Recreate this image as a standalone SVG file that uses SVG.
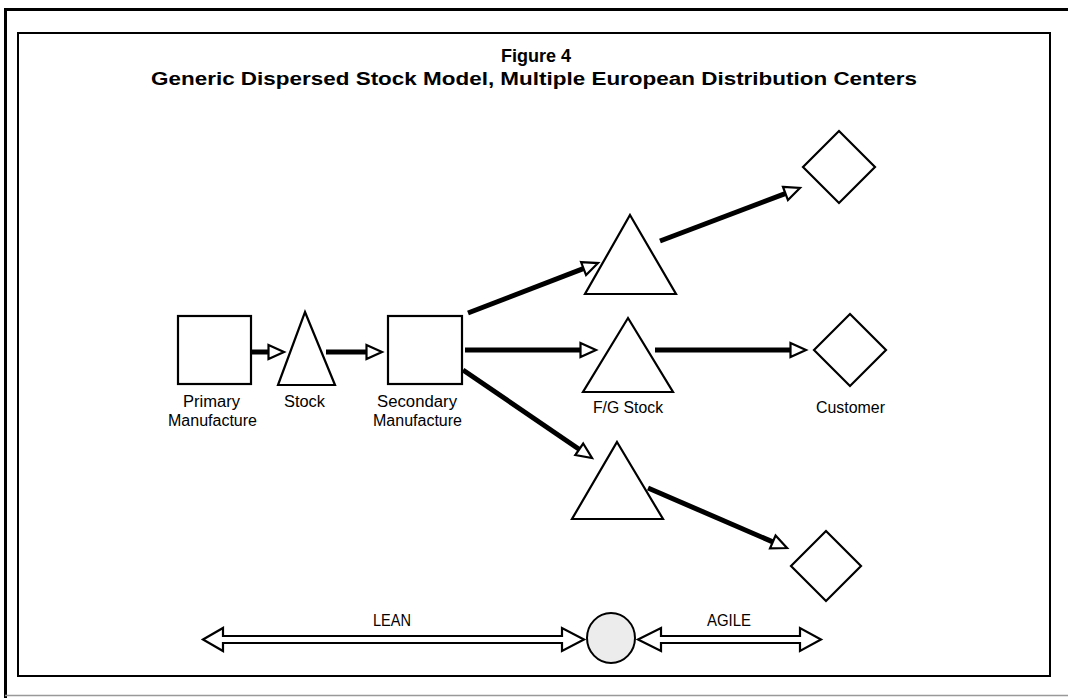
<svg xmlns="http://www.w3.org/2000/svg" width="1068" height="698" viewBox="0 0 1068 698">
<style>
.shape{fill:#fff;stroke:#000;stroke-width:2.2;stroke-linejoin:miter}
.shaft{stroke:#000;stroke-width:5;fill:none}
.lbl{font-family:"Liberation Sans",Arial,sans-serif;font-size:16px;fill:#000;text-anchor:middle}
.ttl{font-family:"Liberation Sans",Arial,sans-serif;font-size:18px;font-weight:bold;fill:#000;text-anchor:middle}
.dbl{fill:#fff;stroke:#000;stroke-width:2.2;stroke-linejoin:miter}
</style>
<defs>
<marker id="ah" markerUnits="userSpaceOnUse" markerWidth="20" markerHeight="20" refX="4" refY="9" orient="auto">
<path d="M1.5,2 L17,9 L1.5,16 Z" fill="#fff" stroke="#000" stroke-width="2.2"/>
</marker>
</defs>
<rect width="1068" height="698" fill="#fff"/>
<g id="frame">
<path d="M5.5,698 L5.5,9.5 L1068,9.5" fill="none" stroke="#000" stroke-width="3"/>
<line x1="5" y1="695.5" x2="1068" y2="695.5" stroke="#999" stroke-width="1.5"/>
<rect x="18" y="33" width="1032" height="643" fill="none" stroke="#000" stroke-width="2"/>
</g>
<g id="title">
<text class="ttl" x="536" y="62" textLength="70" lengthAdjust="spacingAndGlyphs">Figure 4</text>
<text class="ttl" x="534" y="85" textLength="766" lengthAdjust="spacingAndGlyphs">Generic Dispersed Stock Model, Multiple European Distribution Centers</text>
</g>
<g id="connectors">
<line class="shaft" x1="252" y1="352" x2="271" y2="352" marker-end="url(#ah)"/>
<line class="shaft" x1="326" y1="352" x2="369" y2="352" marker-end="url(#ah)"/>
<line class="shaft" x1="468" y1="313" x2="585.9" y2="267.7" marker-end="url(#ah)"/>
<line class="shaft" x1="465" y1="350" x2="583" y2="350" marker-end="url(#ah)"/>
<line class="shaft" x1="463" y1="370" x2="581.3" y2="450.7" marker-end="url(#ah)"/>
<line class="shaft" x1="660" y1="241" x2="787.8" y2="192.6" marker-end="url(#ah)"/>
<line class="shaft" x1="655" y1="350" x2="793" y2="350" marker-end="url(#ah)"/>
<line class="shaft" x1="648" y1="488" x2="775.1" y2="542.9" marker-end="url(#ah)"/>
</g>
<g id="primary">
<rect class="shape" x="178" y="316" width="73" height="68"/>
<text class="lbl" x="211.5" y="407" textLength="57" lengthAdjust="spacingAndGlyphs">Primary</text>
<text class="lbl" x="212.5" y="426" textLength="89" lengthAdjust="spacingAndGlyphs">Manufacture</text>
</g>
<g id="stock">
<polygon class="shape" points="305,312 335,385 278,385"/>
<text class="lbl" x="304.5" y="407" textLength="41" lengthAdjust="spacingAndGlyphs">Stock</text>
</g>
<g id="secondary">
<rect class="shape" x="388" y="316" width="74" height="68"/>
<text class="lbl" x="417" y="407" textLength="80" lengthAdjust="spacingAndGlyphs">Secondary</text>
<text class="lbl" x="417.5" y="426" textLength="89" lengthAdjust="spacingAndGlyphs">Manufacture</text>
</g>
<g id="stock-top">
<polygon class="shape" points="630,215 676,294 585,294"/>
</g>
<g id="fg-stock">
<polygon class="shape" points="628,318 673,392 583,392"/>
<text class="lbl" x="628" y="413" textLength="70" lengthAdjust="spacingAndGlyphs">F/G Stock</text>
</g>
<g id="customer-top">
<polygon class="shape" points="839,131 875,167 839,203 803,167"/>
</g>
<g id="customer">
<polygon class="shape" points="850,314 886,350 850,386 814,350"/>
<text class="lbl" x="850.5" y="413" textLength="69" lengthAdjust="spacingAndGlyphs">Customer</text>
</g>
<g id="stock-bottom">
<polygon class="shape" points="617,442 663,519 572,519"/>
</g>
<g id="customer-bottom">
<polygon class="shape" points="826,531 861,566 826,601 791,566"/>
</g>
<g id="lean">
<path class="dbl" d="M203,639.5 L223,628 L223,636 L562,636 L562,628 L584,639.5 L562,651 L562,643 L223,643 L223,651 Z"/>
<text class="lbl" x="392" y="626" textLength="38" lengthAdjust="spacingAndGlyphs">LEAN</text>
</g>
<g id="pivot">
<ellipse cx="611" cy="638" rx="24" ry="25" fill="#ececec" stroke="#000" stroke-width="2"/>
</g>
<g id="agile">
<path class="dbl" d="M638,639.5 L661,628 L661,636 L800,636 L800,628 L821,639.5 L800,651 L800,643 L661,643 L661,651 Z"/>
<text class="lbl" x="729" y="626" textLength="44" lengthAdjust="spacingAndGlyphs">AGILE</text>
</g>
</svg>
